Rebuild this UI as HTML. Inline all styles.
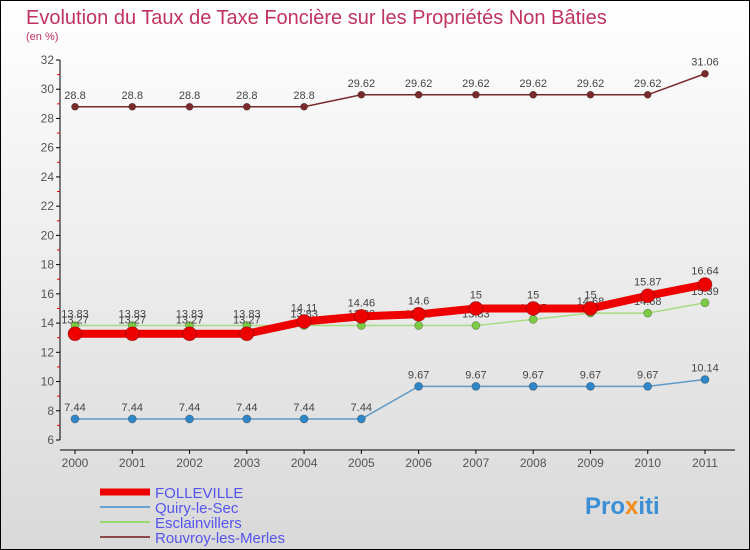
<!DOCTYPE html>
<html><head><meta charset="utf-8"><style>
body{margin:0}
svg{display:block;font-family:"Liberation Sans",sans-serif}
</style></head><body>
<svg width="750" height="550" viewBox="0 0 750 550">
<defs><linearGradient id="bg" x1="0" y1="0" x2="0" y2="1"><stop offset="0" stop-color="#ffffff"/><stop offset="1" stop-color="#d9d9d9"/></linearGradient></defs>
<rect x="0.5" y="0.5" width="749" height="549" fill="url(#bg)" stroke="#000"/>
<text x="26" y="24" font-size="20" fill="#c0335e">Evolution du Taux de Taxe Foncière sur les Propriétés Non Bâties</text>
<text x="26" y="40" font-size="11" fill="#c0335e">(en %)</text>
<g id="axes"></g>
<g id="series"></g>
<g id="legend"></g>
<text x="585" y="514" font-size="24" font-weight="bold" fill="#3a8fd6">Pro<tspan fill="#f28c1a">x</tspan>iti</text>
</svg>
<script>
const years=["2000","2001","2002","2003","2004","2005","2006","2007","2008","2009","2010","2011"];
const yTicks=[6,8,10,12,14,16,18,20,22,24,26,28,30,32];
const folleville=[13.27,13.27,13.27,13.27,14.11,14.46,14.6,15,15,15,15.87,16.64];
const quiry=[7.44,7.44,7.44,7.44,7.44,7.44,9.67,9.67,9.67,9.67,9.67,10.14];
const esclain=[13.83,13.83,13.83,13.83,13.83,13.83,13.83,13.83,14.25,14.68,14.68,15.39];
const rouvroy=[28.8,28.8,28.8,28.8,28.8,29.62,29.62,29.62,29.62,29.62,29.62,31.06];
const NS="http://www.w3.org/2000/svg";
const X=i=>75+i*(705-75)/11;
const Y=v=>440-(v-6)*(380/26);
function mk(t,a,p){const e=document.createElementNS(NS,t);for(const k in a)e.setAttribute(k,a[k]);p.appendChild(e);return e;}
const ax=document.getElementById('axes');
let e=mk('line',{x1:60,y1:60,x2:60,y2:440,stroke:'#000'},ax);


e=mk('line',{x1:60,y1:450,x2:735,y2:450,stroke:'#000'},ax);


yTicks.forEach((v,i)=>{
 mk('line',{x1:56,y1:Y(v),x2:60,y2:Y(v),stroke:'#000'},ax);
 if(i<yTicks.length-1)mk('line',{x1:57,y1:Y(v+1),x2:60,y2:Y(v+1),stroke:'#e00'},ax);
 const t=mk('text',{x:54,y:Y(v)+4,'font-size':12,'text-anchor':'end',fill:'#555'},ax);t.textContent=v;
 
 
});
years.forEach((y,i)=>{
 mk('line',{x1:X(i),y1:450,x2:X(i),y2:454,stroke:'#000'},ax);
 const t=mk('text',{x:X(i),y:467,'font-size':12,'text-anchor':'middle',fill:'#555'},ax);t.textContent=y;
 
 
});
const sg=document.getElementById('series');
const defs=[
 {d:rouvroy,c:'#7a2a2a',w:1.5,r:3.5,name:'rouvroy'},
 {d:quiry,c:'#5f9ac7',w:1.5,r:4,fc:'#2f86c9',name:'quiry'},
 {d:esclain,c:'#a8dc80',w:1.5,r:4,fc:'#7ccc44',name:'esclainvillers'},
 {d:folleville,c:'#ee0000',w:8,r:7,name:'folleville'}];
defs.forEach(s=>{
 const g=mk('g',{},sg);
 
 
 const l=mk('polyline',{points:s.d.map((v,i)=>X(i)+','+Y(v)).join(' '),fill:'none',stroke:s.c,'stroke-width':s.w},g);
 
 
 s.d.forEach((v,i)=>{
  const c=mk('circle',{cx:X(i),cy:Y(v),r:s.r,fill:s.fc||s.c,stroke:'rgba(0,0,0,0.3)','stroke-width':0.8},g);
  
  
  const t=mk('text',{x:X(i),y:Y(v)-(s.name==='folleville'?10:8),'font-size':11,'text-anchor':'middle',fill:'#444'},g);
  t.textContent=v;
  
  
 });
});
const lg=document.getElementById('legend');
[['FOLLEVILLE','#ee0000',7],['Quiry-le-Sec','#6aa3cf',2],['Esclainvillers','#99d972',2],['Rouvroy-les-Merles','#8a4a4a',2]].forEach((it,i)=>{
 const y=492+i*15;
 const g=mk('g',{},lg);
 
 
 mk('line',{x1:100,y1:y,x2:150,y2:y,stroke:it[1],'stroke-width':it[2]},g);
 const t=mk('text',{x:155,y:y+6,'font-size':15,fill:'#5555ee'},g);t.textContent=it[0];
});
</script>
</body></html>
